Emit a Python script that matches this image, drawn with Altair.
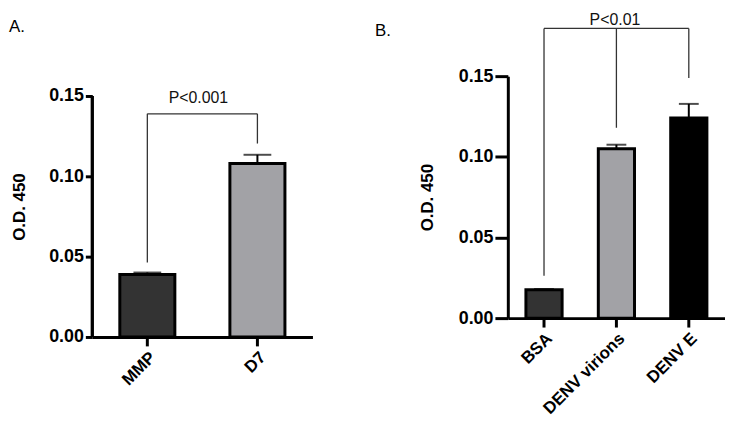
import altair as alt
import pandas as pd

FONT = "Liberation Sans"

# ---------------- data ----------------
a_categories = ["MMP", "D7"]
a_means = [0.0389, 0.108]
a_errors = [0.0012, 0.0054]
a_colors = ["#333333", "#a2a2a6"]
a_pvalue = "P<0.001"
a_bracket_y = 0.1389
a_leg_bottoms = [0.0463, 0.1204]

b_categories = ["BSA", "DENV virions", "DENV E"]
b_means = [0.0176, 0.105, 0.1241]
b_errors = [0.0004, 0.0025, 0.0087]
b_colors = ["#333333", "#a2a2a6", "#000000"]
b_pvalue = "P<0.01"
b_bracket_y = 0.1796
b_leg_bottoms = [0.0262, 0.118, 0.1488]

y_ticks = [0.0, 0.05, 0.10, 0.15]
Y_TITLE = "O.D. 450"


def panel(cats, means, errs, colors, ymax, w, h, ytick_size, xlab_size,
          bracket_y, leg_bottoms, ptext, ptext_x, ptext_y, letter, letter_x, letter_y,
          own_domain, cap_size, title_pad):
    df = pd.DataFrame({
        "cat": cats,
        "mean": means,
        "top": [m + e for m, e in zip(means, errs)],
        "color": colors,
    })
    xscale = alt.Scale(domain=cats, paddingInner=0.5, paddingOuter=0.25)
    yscale = alt.Scale(domain=[0, ymax], nice=False, zero=True)
    xaxis = alt.Axis(title=None, labelAngle=-45, labelFontSize=xlab_size, labelFontWeight="bold",
                     labelColor="black", labelFont=FONT, tickSize=9, tickWidth=3, tickColor="black",
                     domainWidth=3, domainColor="black", labelPadding=3)
    yaxis = alt.Axis(title=Y_TITLE, titleFontSize=17, titleFontWeight="bold", titleColor="black",
                     titleFont=FONT, titlePadding=title_pad,
                     values=y_ticks, format=".2f", grid=False, domain=not own_domain,
                     domainWidth=3, domainColor="black",
                     tickSize=ytick_size, tickWidth=3, tickColor="black",
                     labelFontSize=18, labelFontWeight="bold", labelColor="black", labelFont=FONT,
                     labelPadding=2)
    X = lambda f: alt.X(f, sort=cats, scale=xscale, axis=xaxis)
    Y = lambda f: alt.Y(f, scale=yscale, axis=yaxis)
    base = alt.Chart(df)
    bars = base.mark_bar(stroke="black", strokeWidth=3).encode(
        x=X("cat:N"),
        y=Y("mean:Q"),
        fill=alt.Fill("color:N", scale=None),
    )
    err = base.mark_rule(color="black", strokeWidth=2).encode(
        x=X("cat:N"), y=Y("mean:Q"), y2="top:Q",
    )
    cap = base.mark_tick(color="black", thickness=2, size=cap_size).encode(
        x=X("cat:N"), y=Y("top:Q"),
    )
    # bracket
    hdf = pd.DataFrame({"x": [cats[0]], "x2": [cats[-1]], "y": [bracket_y]})
    hline = alt.Chart(hdf).mark_rule(color="#333333", strokeWidth=1.3).encode(
        x=X("x:N"), x2="x2:N", y=Y("y:Q"))
    vdf = pd.DataFrame({"x": cats, "y": leg_bottoms, "y2": [bracket_y] * len(cats)})
    vlines = alt.Chart(vdf).mark_rule(color="#333333", strokeWidth=1.3).encode(
        x=X("x:N"), y=Y("y:Q"), y2="y2:Q")
    tdf = pd.DataFrame({"label": [ptext], "y": [ptext_y]})
    ptxt = alt.Chart(tdf).mark_text(font=FONT, fontSize=16, color="#111111", baseline="middle",
                                    align="center").encode(
        x=alt.value(ptext_x), y=Y("y:Q"), text="label:N")
    ldf = pd.DataFrame({"label": [letter]})
    ltxt = alt.Chart(ldf).mark_text(font=FONT, fontSize=17, color="black", baseline="middle",
                                    align="left").encode(
        x=alt.value(letter_x), y=alt.value(letter_y), text="label:N")
    layers = [bars, err, cap, hline, vlines, ptxt, ltxt]
    if own_domain:
        dline = alt.Chart(df).mark_rule(color="black", strokeWidth=3).encode(
            x=alt.value(0), y=alt.datum(0.0), y2=alt.datum(0.15))
        layers.append(dline)
    return alt.layer(*layers).properties(width=w, height=h)


a_panel = panel(a_categories, a_means, a_errors, a_colors, 0.15 * 263 / 243, 222, 263, 7, 17,
                a_bracket_y, a_leg_bottoms, a_pvalue, 107, 0.1488, "A.", -84, -50,
                True, 28, 20)
b_panel = panel(b_categories, b_means, b_errors, b_colors, 0.15, 219, 244, 13, 17,
                b_bracket_y, b_leg_bottoms, b_pvalue, 108, 0.1845, "B.", -134, -45,
                False, 20, 22)

chart = alt.hconcat(a_panel, b_panel, spacing=197, bounds="flush").properties(
    padding={"left": 1, "top": 2, "right": 0, "bottom": 0}
).configure(font=FONT, view=alt.ViewConfig(stroke="transparent", strokeWidth=0))

chart.save("out.html", embed_options={"renderer": "svg", "actions": False})
